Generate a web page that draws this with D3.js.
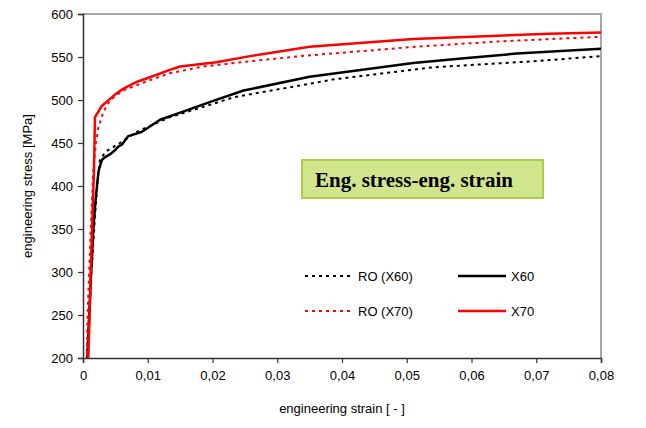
<!DOCTYPE html>
<html>
<head>
<meta charset="utf-8">
<script src="https://cdn.jsdelivr.net/npm/d3@7.9.0/dist/d3.min.js"></script>
<style>
  body { margin:0; background:#fff; }
  text { font-family: "Liberation Sans", Arial, sans-serif; }
</style>
</head>
<body>
<svg id="chart" width="646" height="428"></svg>
<script>
// [strain, stress MPa]
const x60 = [[0.0007,200],[0.0012,290],[0.0016,350],[0.0019,380],[0.0022,403],[0.0024,417],[0.0029,430],[0.0033,433],
  [0.0042,437],[0.0047,440],[0.0055,446],[0.006,448],[0.007,458],[0.0091,463],[0.0119,477],[0.016,488],[0.0201,499],
  [0.0248,511],[0.035,527],[0.051,543],[0.058,548],[0.067,554],[0.08,559.5]];
const roX60 = [[0.0006,200],[0.0007,217],[0.0013,300],[0.0019,370],[0.0023,410],[0.0026,430],[0.0035,440],[0.0057,450],
  [0.0083,463],[0.0134,480],[0.0186,492],[0.0232,503],[0.0387,524],[0.054,538],[0.0695,545],[0.08,551]];
const x70 = [[0.00082,200],[0.0012,302],[0.0017,420],[0.00185,480],[0.0029,493],[0.0049,506],[0.0062,513],[0.0083,521],
  [0.0098,525],[0.0134,535],[0.015,539],[0.0206,544],[0.0258,551],[0.035,562],[0.051,571],[0.072,577],[0.08,578.5]];
const roX70 = [[0.0006,205],[0.0007,250],[0.0012,350],[0.0016,420],[0.002,450],[0.0024,469],[0.0032,487],[0.0042,500],
  [0.0062,511],[0.0103,523],[0.0134,531],[0.0186,539],[0.0258,545],[0.0335,551],[0.0515,562],[0.064,568],[0.08,573.5]];

const xTicks = [0,0.01,0.02,0.03,0.04,0.05,0.06,0.07,0.08];
const yTicks = [200,250,300,350,400,450,500,550,600];

const series = [
  { name:'RO (X60)', data:roX60, color:'#000', dash:'3,4' },
  { name:'X60',      data:x60,   color:'#000', dash:null },
  { name:'RO (X70)', data:roX70, color:'#f00', dash:'3,4' },
  { name:'X70',      data:x70,   color:'#f00', dash:null }
];

const L = 83, R = 601, T = 14, B = 358;
const svg = d3.select('#chart');
const x = d3.scaleLinear().domain([0,0.08]).range([L,R]);
const y = d3.scaleLinear().domain([200,600]).range([B,T]);

// frame top/right
svg.append('path').attr('d',`M${L},${T}H${R}V${B}`).attr('fill','none').attr('stroke','#a6a6a6').attr('stroke-width',2);

const fmt = d => d === 0 ? '0' : d3.format('.2f')(d).replace('.', ',');
const xa = svg.append('g').attr('transform',`translate(0,${B})`)
  .call(d3.axisBottom(x).tickValues(xTicks).tickFormat(fmt).tickSizeOuter(0).tickSize(5).tickPadding(8));
const ya = svg.append('g').attr('transform',`translate(${L},0)`)
  .call(d3.axisLeft(y).tickValues(yTicks).tickSizeOuter(0).tickSize(5).tickPadding(5));
[xa, ya].forEach(g => {
  g.select('.domain').attr('stroke','#333').attr('stroke-width',1.5);
  g.selectAll('.tick line').attr('stroke','#333').attr('stroke-width',1.2);
  g.selectAll('.tick text').attr('font-size',13).attr('fill','#000').attr('font-family','"Liberation Sans", Arial, sans-serif');
});

svg.append('text').attr('x',(L+R)/2).attr('y',413).attr('text-anchor','middle').attr('font-size',13).text('engineering strain [ - ]');
svg.append('text').attr('transform',`translate(32,${(T+B)/2}) rotate(-90)`).attr('text-anchor','middle').attr('font-size',13).text('engineering stress [MPa]');

const line = d3.line().x(d=>x(d[0])).y(d=>y(d[1]));
series.forEach(s => {
  svg.append('path').datum(s.data).attr('d',line).attr('fill','none')
    .attr('stroke',s.color).attr('stroke-width', s.dash ? 2 : 2.5)
    .attr('stroke-dasharray', s.dash).attr('stroke-linejoin','round');
});

// title box
svg.append('rect').attr('x',302).attr('y',160).attr('width',241).attr('height',38)
  .attr('fill','#d0e58c').attr('stroke','#a8d048').attr('stroke-width',2);
svg.append('text').attr('x',315).attr('y',187).attr('font-size',21).attr('font-weight','bold')
  .style('font-family','"Liberation Serif", "Times New Roman", serif').text('Eng. stress-eng. strain');

// legend
const leg = [
  { s:series[0], lx:305, ty:276 }, { s:series[1], lx:458, ty:276 },
  { s:series[2], lx:305, ty:311 }, { s:series[3], lx:458, ty:311 }
];
leg.forEach(l => {
  svg.append('line').attr('x1',l.lx).attr('x2',l.lx+48).attr('y1',l.ty).attr('y2',l.ty)
    .attr('stroke',l.s.color).attr('stroke-width', l.s.dash ? 2 : 2.5).attr('stroke-dasharray', l.s.dash);
  svg.append('text').attr('x',l.lx+53).attr('y',l.ty+5).attr('font-size',13).text(l.s.name);
});
</script>
</body>
</html>
